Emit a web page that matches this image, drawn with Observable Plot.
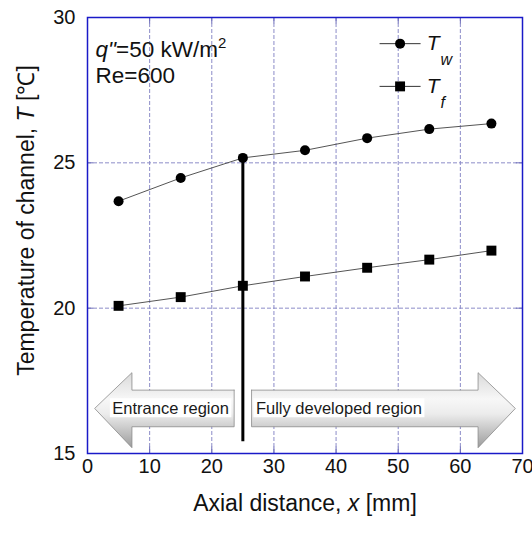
<!DOCTYPE html>
<html><head><meta charset="utf-8">
<script src="https://cdn.jsdelivr.net/npm/d3@7"></script>
<script src="https://cdn.jsdelivr.net/npm/@observablehq/plot@0.6"></script>
<style>
body{margin:0;background:#fff}
</style>
</head><body><div id="chart"></div>
<script>
// ---- data ----
const xPositions = [5, 15, 25, 35, 45, 55, 65];
const wallTemp = [23.68, 24.48, 25.17, 25.43, 25.85, 26.16, 26.35];
const fluidTemp = [20.08, 20.38, 20.77, 21.09, 21.39, 21.67, 21.98];
const xTicks = [0, 10, 20, 30, 40, 50, 60, 70];
const yTicks = [15, 20, 25, 30];
const gridXValues = [10, 20, 30, 40, 50, 60];
const gridYValues = [20, 25];
const seriesNames = ["T_w", "T_f"];
const regionNames = ["Entrance region", "Fully developed region"];
const regionBounds = [[0, 25], [25, 70]];
const regionDirections = ["left", "right"];
const boundaryX = 25;
const boundaryBottom = 15.4;
const annotationLines = ["q\"=50 kW/m²", "Re=600"];

// ---- derived tables ----
const wall = xPositions.map((x, i) => ({x, T: wallTemp[i]}));
const fluid = xPositions.map((x, i) => ({x, T: fluidTemp[i]}));

// arrow outlines derived from region bounds
const tipGap = 1.15, tailGap = 1.4, headLen = 6;
const bodyTop = 17.18, bodyBot = 15.92, headTop = 17.78, headBot = 15.2, mid = (bodyTop + bodyBot) / 2;
const arrowPts = [];
regionBounds.forEach(([a, b], i) => {
  const dir = regionDirections[i];
  let tip, base, tail;
  if (dir === "left") { tip = a + tipGap; base = tip + headLen; tail = b - tailGap; }
  else { tip = b - tipGap; base = tip - headLen; tail = a + tailGap; }
  const pts = [[tail, bodyTop], [base, bodyTop], [base, headTop], [tip, mid], [base, headBot], [base, bodyBot], [tail, bodyBot], [tail, bodyTop]];
  pts.forEach(([x, y]) => arrowPts.push({region: regionNames[i], x, y}));
});
const labelStart = [4.0, 27.1];
const labelRows = regionNames.map((name, i) => ({name, x: labelStart[i], y: mid}));

// legend layout (data units)
const legendY = [29.1, 27.63];
const legendLine = {x1: 47, x2: 53.6, xm: 50.3, xt: 54.6, xs: 56.8};
const legendRows = seriesNames.map((s, i) => ({main: s.split("_")[0], sub: s.split("_")[1], y: legendY[i]}));

const font = "'Liberation Sans', Arial, Helvetica, sans-serif";
const ink = "#111";

const chart = Plot.plot({
  width: 532,
  height: 534,
  marginLeft: 87,
  marginRight: 10,
  marginTop: 17,
  marginBottom: 81,
  style: {fontFamily: font, fontSize: "20px", color: ink, background: "white", overflow: "visible"},
  x: {domain: [0, 70], ticks: xTicks, tickSize: 0, tickPadding: 5, label: null},
  y: {domain: [15, 30], ticks: yTicks, tickSize: 0, tickPadding: 12, label: null},
  marks: [
    Plot.ruleX(gridXValues, {stroke: "#8c8cc8", strokeDasharray: "4,2", strokeWidth: 1}),
    Plot.ruleY(gridYValues, {stroke: "#8c8cc8", strokeDasharray: "4,2", strokeWidth: 1}),
    Plot.ruleX(gridXValues, {y1: 30, y2: 29.78, stroke: "#6a6ab8", strokeWidth: 1}),
    Plot.ruleX(gridXValues, {y1: 15, y2: 15.22, stroke: "#6a6ab8", strokeWidth: 1}),
    Plot.ruleY(gridYValues, {x1: 0, x2: 1, stroke: "#6a6ab8", strokeWidth: 1}),
    Plot.ruleY(gridYValues, {x1: 69, x2: 70, stroke: "#6a6ab8", strokeWidth: 1}),
    // region arrows
    Plot.line(arrowPts, {x: "x", y: "y", z: "region", fill: "url(#arrowGrad)", stroke: "#8a8a8a", strokeWidth: 0.8}),
    Plot.text(labelRows, {x: "x", y: "y", text: "name", textAnchor: "start", lineAnchor: "middle", fontSize: 16.5, fill: "#1a1a1a"}),
    // boundary line
    Plot.ruleX([boundaryX], {y1: boundaryBottom, y2: wallTemp[xPositions.indexOf(boundaryX)], stroke: "#000", strokeWidth: 3}),
    // series
    Plot.line(wall, {x: "x", y: "T", stroke: "#555", strokeWidth: 1}),
    Plot.line(fluid, {x: "x", y: "T", stroke: "#555", strokeWidth: 1}),
    Plot.dot(wall, {x: "x", y: "T", r: 5, fill: "#000", stroke: "none"}),
    Plot.dot(fluid, {x: "x", y: "T", r: 5.6, symbol: "square", fill: "#000", stroke: "none"}),
    // legend
    Plot.link(legendRows, {x1: legendLine.x1, x2: legendLine.x2, y1: "y", y2: "y", stroke: "#333", strokeWidth: 1}),
    Plot.dot([legendRows[0]], {x: legendLine.xm, y: "y", r: 5, fill: "#000", stroke: "none"}),
    Plot.dot([legendRows[1]], {x: legendLine.xm, y: "y", r: 5.6, symbol: "square", fill: "#000", stroke: "none"}),
    Plot.text(legendRows, {x: legendLine.xt, y: "y", text: "main", textAnchor: "start", lineAnchor: "middle", fontSize: 21, fontStyle: "italic", fill: ink}),
    Plot.text(legendRows, {x: legendLine.xs, y: "y", text: "sub", textAnchor: "start", lineAnchor: "middle", fontSize: 16, fontStyle: "italic", dy: 16, fill: ink}),
    // annotation
    Plot.text([annotationLines[0]], {frameAnchor: "top-left", dx: 8, dy: 32, textAnchor: "start", lineAnchor: "middle", fontSize: 22.5, fill: ink}),
    Plot.text([annotationLines[1]], {frameAnchor: "top-left", dx: 8, dy: 58, textAnchor: "start", lineAnchor: "middle", fontSize: 22.5, fill: ink}),
    // axis titles
    Plot.text(["Axial distance, x [mm]"], {frameAnchor: "bottom", dy: 50, textAnchor: "middle", lineAnchor: "middle", fontSize: 23, fill: ink}),
    Plot.text(["Temperature of channel, T [℃]"], {frameAnchor: "left", rotate: -90, dx: -61, dy: -15, textAnchor: "middle", lineAnchor: "middle", fontSize: 23, fill: ink}),
    Plot.frame({stroke: "#1a1ac8", strokeWidth: 1.5})
  ]
});

document.getElementById("chart").appendChild(chart);

const svg = d3.select(chart.tagName.toLowerCase() === "svg" ? chart : chart.querySelector("svg"));
const defs = svg.insert("defs", ":first-child");
const grad = defs.append("linearGradient").attr("id", "arrowGrad").attr("x1", 0).attr("y1", 0).attr("x2", 0).attr("y2", 1);
[[0, "#d9d9d9"], [0.35, "#f7f7f7"], [0.55, "#ececec"], [1, "#9c9c9c"]].forEach(([o, c]) => grad.append("stop").attr("offset", o).attr("stop-color", c));

function richify(plain, parts) {
  svg.selectAll("text").filter(function () { return this.textContent === plain; }).each(function () {
    const t = d3.select(this);
    t.text(null);
    for (const p of parts) {
      const ts = t.append("tspan").text(p.text);
      if (p.italic) ts.attr("font-style", "italic");
      if (p.size) ts.attr("font-size", p.size);
      if (p.dy) ts.attr("dy", p.dy);
    }
  });
}
richify("Axial distance, x [mm]", [{text: "Axial distance, "}, {text: "x", italic: true}, {text: " [mm]"}]);
richify("Temperature of channel, T [℃]", [{text: "Temperature of channel, "}, {text: "T", italic: true}, {text: " [℃]"}]);
richify(annotationLines[0], [{text: "q\"", italic: true}, {text: "=50 kW/m"}, {text: "2", size: 15, dy: -9}]);

// white boxes behind region labels
svg.selectAll("text").filter(function () { return regionNames.includes(this.textContent); }).each(function () {
  const b = this.getBBox();
  const ctm = this.getAttribute("transform");
  d3.select(this.parentNode).insert("rect", () => this)
    .attr("transform", ctm)
    .attr("x", b.x - 2.5).attr("y", b.y - 0.5).attr("width", b.width + 5).attr("height", b.height + 1)
    .attr("fill", "#fff");
});
</script>
</body></html>
